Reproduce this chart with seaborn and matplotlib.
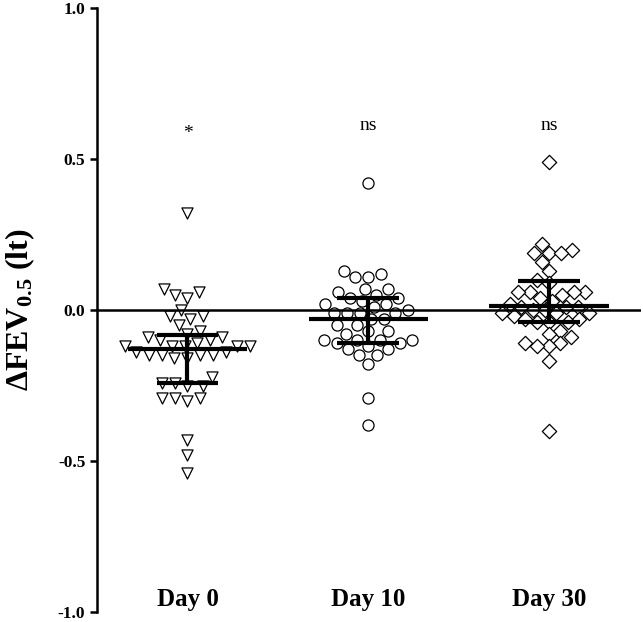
import numpy as np
import pandas as pd
import matplotlib
matplotlib.use("Agg")
import matplotlib.pyplot as plt
import seaborn as sns

# === Data ===
days = ["Day 0", "Day 10", "Day 30"]
markers = ["v", "o", "D"]
marker_sizes = [8.0, 8.0, 7.3]

day0 = [0.32, 0.07, 0.05, 0.04, 0.06, 0.0, -0.02, -0.03, -0.02, -0.05,
        -0.09, -0.09, -0.07, -0.10, -0.10, -0.08, -0.12, -0.12, -0.11, -0.12,
        -0.12, -0.12, -0.14, -0.15, -0.15, -0.16, -0.16, -0.15, -0.15, -0.14,
        -0.22, -0.25, -0.24, -0.24, -0.25, -0.29, -0.30, -0.29, -0.29, -0.43,
        -0.48, -0.54]
day10 = [0.42, 0.12, 0.11, 0.13, 0.11, 0.05, 0.07, 0.06, 0.07, 0.04,
         0.02, 0.01, 0.02, 0.03, 0.04, -0.01, -0.01, -0.01, 0.0, -0.01,
         -0.03, -0.05, -0.05, -0.03, -0.07, -0.07, -0.08, -0.11, -0.12, -0.10,
         -0.10, -0.10, -0.11, -0.10, -0.15, -0.13, -0.15, -0.13, -0.18, -0.29,
         -0.38]
day30 = [0.49, 0.20, 0.19, 0.22, 0.19, 0.19, 0.13, 0.16, 0.09, 0.10,
         0.06, 0.06, 0.06, 0.06, 0.04, 0.05, 0.02, 0.01, 0.03, 0.01,
         -0.02, -0.03, -0.01, -0.01, 0.0, -0.03, -0.01, 0.01, 0.0, -0.07,
         -0.04, -0.04, -0.04, -0.08, -0.11, -0.11, -0.09, -0.12, -0.12, -0.17,
         -0.40]

# median and interquartile range as drawn in the figure
medians = [-0.13, -0.03, 0.015]
q1 = [-0.24, -0.11, -0.04]
q3 = [-0.083, 0.04, 0.097]

annotations = ["*", "ns", "ns"]
annot_y = [0.585, 0.61, 0.61]

df = pd.concat([
    pd.DataFrame({"day": d, "value": v})
    for d, v in zip(days, [day0, day10, day30])
])

# === Plot ===
sns.set_style("ticks")
plt.rcParams["font.family"] = ["Liberation Serif", "DejaVu Serif"]
plt.rcParams["mathtext.fontset"] = "custom"
plt.rcParams["mathtext.rm"] = "Liberation Serif:bold"
plt.rcParams["mathtext.default"] = "rm"
plt.rcParams["text.color"] = "black"
plt.rcParams["axes.labelcolor"] = "black"
plt.rcParams["xtick.color"] = "black"
plt.rcParams["ytick.color"] = "black"
plt.rcParams["axes.edgecolor"] = "black"

fig = plt.figure(figsize=(6.43, 6.22), dpi=100)
ax = fig.add_axes([0.151, 0.016, 0.846, 0.971])

for d, m, s in zip(days, markers, marker_sizes):
    sns.swarmplot(data=df[df["day"] == d], x="day", y="value", order=days,
                  marker=m, size=s, color="white", edgecolor="black",
                  linewidth=0.9, ax=ax, zorder=2)

ax.axhline(0, color="black", lw=1.8, zorder=3)

pos = np.arange(len(days))
ax.hlines(medians, pos - 0.33, pos + 0.33, color="black", lw=3, zorder=4)
ax.hlines(q1, pos - 0.17, pos + 0.17, color="black", lw=3, zorder=4)
ax.hlines(q3, pos - 0.17, pos + 0.17, color="black", lw=3, zorder=4)
ax.vlines(pos, q1, q3, color="black", lw=3, zorder=4)

for p, t, yy in zip(pos, annotations, annot_y):
    ax.text(p, yy, t, ha="center", va="center", fontsize=14,
            family="Liberation Serif", color="black")

ax.set_xlim(-0.5, 2.51)
ax.set_ylim(-1.0, 1.0)
ax.set_yticks([-1.0, -0.5, 0.0, 0.5, 1.0])
ax.set_yticklabels(["-1.0", "-0.5", "0.0", "0.5", "1.0"])

sns.despine(ax=ax, bottom=True, right=True, top=True)
ax.spines["left"].set_linewidth(1.8)
ax.tick_params(axis="y", direction="out", length=5, width=1.8,
               labelsize=12.5)
ax.tick_params(axis="x", length=0, labelsize=18, pad=-17)
for lab in ax.get_yticklabels() + ax.get_xticklabels():
    lab.set_fontweight("bold")

ax.set_xlabel("")
ax.set_ylabel(r"ΔFEV$_{0.5}$ (lt)", fontsize=23, fontweight="bold")
ax.yaxis.set_label_coords(-0.11, 0.5)

fig.savefig("out.png", dpi=100)
